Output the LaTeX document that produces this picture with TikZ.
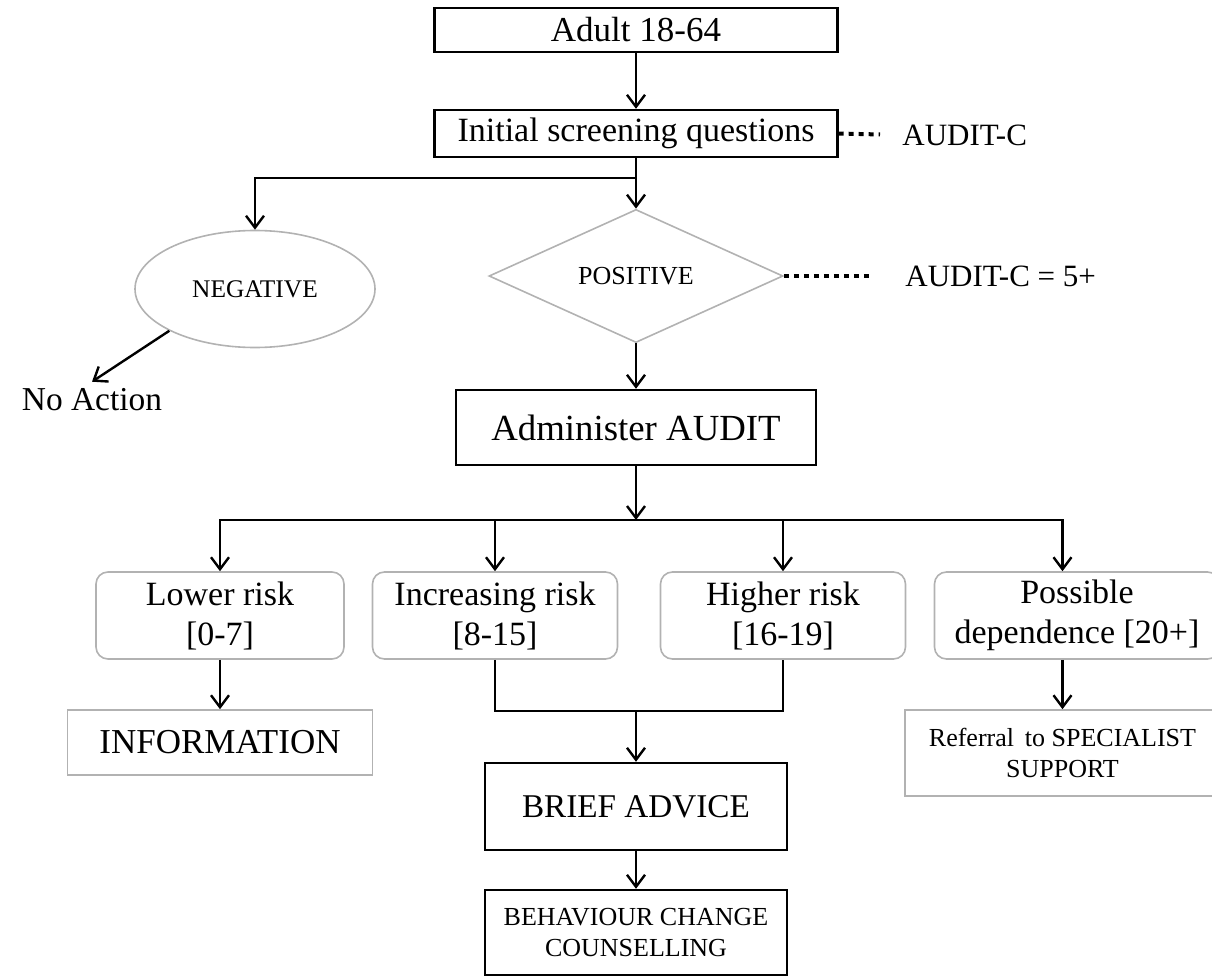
\documentclass[tikz,border=0pt]{standalone}
\usepackage{fontspec}
\setmainfont{Liberation Serif}
\usetikzlibrary{arrows.meta,shapes.geometric}
\tikzset{>={Straight Barb[length=6pt,width=9pt]}}
\tikzstyle{mainbox}=[draw, line width=1.2pt, inner sep=0pt, align=center]
\tikzstyle{riskbox}=[draw=gray!60, line width=0.8pt, rounded corners=6pt,
	 inner sep=0pt, align=center, minimum width=122.5pt, minimum height=43.5pt,
	 font=\fontsize{17}{20}\selectfont]
\tikzstyle{outbox}=[draw=gray!60, line width=0.8pt, inner sep=0pt, align=center]
\tikzstyle{oval}=[ellipse, draw=gray!60, line width=0.8pt, inner sep=0pt]
\tikzstyle{decision}=[diamond, draw=gray!60, line width=0.8pt, inner sep=0pt]
\tikzstyle{link}=[line width=1.2pt]
\tikzstyle{dotlink}=[line width=2pt, dash pattern=on 2.5pt off 2.5pt]
\newcommand{\pDown}[2]{\draw[link,->] (#1.south) -- (#2.north)}
\newcommand{\pBar}[2]{\draw[link,->] (#1) -| (#2.north)}

\begin{document}
\begin{tikzpicture}[x=0.5pt,y=-0.5pt]
\useasboundingbox (0,0) rectangle (1212,980);

\node[mainbox, minimum width=201.5pt, minimum height=22pt, font=\fontsize{17.5}{20}\selectfont] (adult) at (636,30) {Adult 18-64};
\node[mainbox, minimum width=201.5pt, minimum height=23.5pt, font=\fontsize{17}{20}\selectfont] (initial) at (636,133.5) {Initial screening questions};
\node[anchor=west, inner sep=0pt, font=\fontsize{15.5}{18}\selectfont] (auditc) at (902,135) {AUDIT-C};
\coordinate (split1) at (636,178);

\node[oval, minimum width=120pt, minimum height=58.5pt, font=\fontsize{12.7}{14}\selectfont] (negative) at (255,289) {NEGATIVE};
\node[font=\fontsize{16.7}{18}\selectfont] (noaction) at (92,400) {No Action};
\node[decision, minimum width=147pt, minimum height=62.5pt, font=\fontsize{13}{15}\selectfont] (positive) at (636,276) {POSITIVE};
\node[anchor=west, inner sep=0pt, font=\fontsize{15.5}{18}\selectfont] (auditcfive) at (905,276) {AUDIT-C = 5+};

\node[mainbox, minimum width=180pt, minimum height=37.5pt, font=\fontsize{18.4}{20}\selectfont] (admin) at (636,427.5) {Administer AUDIT};
\coordinate (split2) at (636,520);

\node[riskbox, minimum width=124pt] (lower) at (220,615.5) {Lower risk\\{}[0-7]};
\node[riskbox] (increasing) at (495,615.5) {Increasing risk\\{}[8-15]};
\node[riskbox] (higher) at (783,615.5) {Higher risk\\{}[16-19]};
\node[riskbox, minimum width=142.5pt] (possible) at (1077,615.5) {Possible\\dependence [20+]};

\node[outbox, minimum width=152.5pt, minimum height=32.5pt, font=\fontsize{17.5}{20}\selectfont] (information) at (220,742.5) {INFORMATION};
\node[outbox, minimum width=157.5pt, minimum height=43pt, font=\fontsize{13}{15.5}\selectfont] (referral) at (1062.5,753) {Referral\, to SPECIALIST\\SUPPORT};
\coordinate (join) at (636,710);
\node[mainbox, minimum width=151pt, minimum height=43.5pt, font=\fontsize{16.6}{18}\selectfont] (brief) at (636,806.5) {BRIEF ADVICE};
\node[mainbox, minimum width=151pt, minimum height=42.5pt, font=\fontsize{13}{15.5}\selectfont] (behaviour) at (636,932.5) {BEHAVIOUR CHANGE\\COUNSELLING};

% screening
\pDown{adult}{initial};
\draw[dotlink, shorten >=11pt] (initial.east) -- (auditc.west);
\draw[link] (initial.south) -- (split1);
\draw[link,->] (split1) -| (negative.north);
\draw[link,->] (split1) -- (positive.north);
\draw[link,->] (negative.206) -- (noaction.north);
\draw[dotlink, shorten >=17pt] (positive.east) -- (auditcfive.west);
\pDown{positive}{admin};

% risk levels
\draw[link,->] (admin.south) -- (split2);
\pBar{split2}{lower};
\pBar{split2}{increasing};
\pBar{split2}{higher};
\draw[link,->] (split2) -| (referral.north |- possible.north);

% outcomes
\pDown{lower}{information};
\draw[link] (increasing.south) -- ++(0,51) -| (higher.south);
\draw[link,->] (join) -- (brief.north);
\pDown{brief}{behaviour};
\draw[link,->] (referral.north |- possible.south) -- (referral.north);

\end{tikzpicture}
\end{document}
